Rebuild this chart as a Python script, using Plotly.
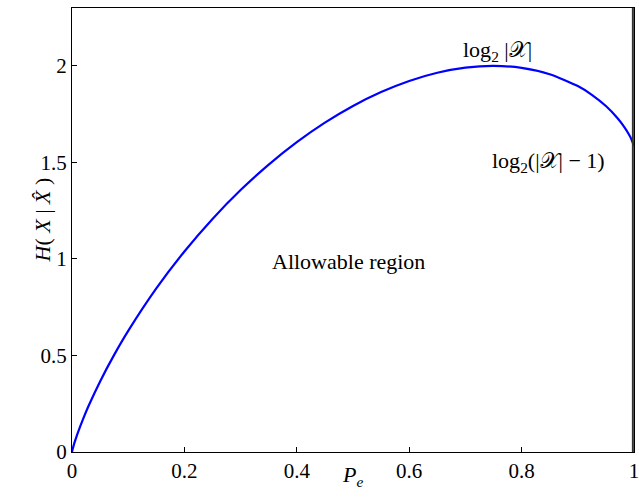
import plotly.graph_objects as go

# Values: error probability Pe and the bound on H(X|X^)
pe = [0, 0.001, 0.0025, 0.005, 0.01, 0.02, 0.03, 0.05, 0.075, 0.1, 0.15, 0.2, 0.25,
      0.3, 0.35, 0.4, 0.45, 0.5, 0.55, 0.6, 0.65, 0.7, 0.75, 0.8, 0.85, 0.9, 0.925,
      0.95, 0.97, 0.98, 0.99, 0.995, 1.0]
h_bound = [0, 0.0130, 0.0292, 0.0533, 0.0966, 0.1731, 0.2419, 0.3657, 0.5032, 0.6275,
           0.8476, 1.0389, 1.2075, 1.3568, 1.4888, 1.6049, 1.7060, 1.7925, 1.8645,
           1.9219, 1.9643, 1.9908, 2.0000, 1.9899, 1.9571, 1.8955, 1.8504, 1.7921,
           1.7318, 1.6947, 1.6499, 1.6225, 1.5850]

x_ticks = [0, 0.2, 0.4, 0.6, 0.8, 1]
x_tick_labels = ["0", "0.2", "0.4", "0.6", "0.8", "1"]
y_ticks = [0, 0.5, 1, 1.5, 2]
y_tick_labels = ["0", "0.5", "1", "1.5", "2"]

FONT = "Liberation Serif, Times New Roman, serif"
TXT = dict(family=FONT, size=22, color="black")

fig = go.Figure()
fig.add_trace(go.Scatter(x=pe, y=h_bound, mode="lines",
                         line=dict(color="#0000ff", width=2.2, shape="spline", smoothing=0.6),
                         showlegend=False, hoverinfo="skip", cliponaxis=False))

fig.add_annotation(x=0.757, y=2.075, text="log<sub>2</sub> |𝒳|", showarrow=False, font=TXT)
fig.add_annotation(x=0.847, y=1.50, text="log<sub>2</sub>(|𝒳| − 1)", showarrow=False, font=TXT)
fig.add_annotation(x=0.492, y=0.986, text="Allowable region", showarrow=False, font=TXT)

# axis titles
fig.add_annotation(xref="x domain", yref="y domain", x=0.499, y=0, yshift=-40,
                   text="<i>P<sub>e</sub></i>", showarrow=False, font=TXT)
fig.add_annotation(xref="x domain", yref="y domain", x=0, xshift=-44, y=0.5225,
                   text="<i>H</i>( <i>X</i> | <i>X̂</i> )", textangle=-90,
                   showarrow=False, font=TXT)

# right edge of the plot frame
fig.add_shape(type="line", xref="x domain", yref="y domain", x0=0.998, x1=0.998, y0=0, y1=1,
              line=dict(color="#333333", width=2), layer="above")

axis_common = dict(showline=True, linecolor="black", linewidth=1.2, mirror=True,
                   ticks="inside", ticklen=5, tickcolor="black", showgrid=False,
                   zeroline=False, tickfont=dict(family=FONT, size=21, color="black"))

fig.update_xaxes(range=[0, 1], tickvals=x_ticks, ticktext=x_tick_labels,
                 ticklabeloverflow="allow", **axis_common)
fig.update_yaxes(range=[0, 2.3], tickvals=y_ticks, ticktext=y_tick_labels,
                 **axis_common)

fig.update_layout(width=639, height=503, paper_bgcolor="white", plot_bgcolor="white",
                  margin=dict(l=72, r=5, t=8, b=51, autoexpand=False))

fig.write_html("out.html", config={"displayModeBar": False},
               post_script="document.body.style.margin='0px';document.body.style.overflow='hidden';")
